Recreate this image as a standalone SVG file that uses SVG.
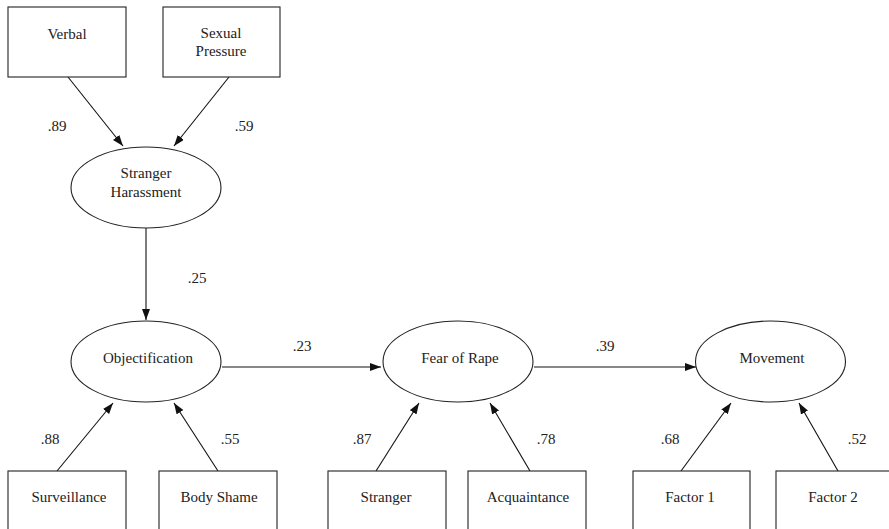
<svg xmlns="http://www.w3.org/2000/svg" width="889" height="529" viewBox="0 0 889 529">
<style>
.box{fill:#fff;stroke:#222;stroke-width:1.1}
.ell{fill:#fff;stroke:#222;stroke-width:1.1}
.t{font-family:"Liberation Serif","Times New Roman",serif;font-size:15px;fill:#222;text-anchor:middle}
.c{stroke:#111;stroke-width:1.1;fill:none;marker-end:url(#ah)}
</style>
<defs>
<marker id="ah" markerUnits="userSpaceOnUse" markerWidth="12" markerHeight="10" refX="11" refY="4" orient="auto">
<path d="M0,0 L11,4 L0,8 Z" fill="#111"/>
</marker>
</defs>
<rect width="889" height="529" fill="#fff"/>
<g id="connectors">
<line class="c" x1="68" y1="77" x2="123" y2="146"/>
<line class="c" x1="229" y1="77" x2="174" y2="146"/>
<line class="c" x1="146" y1="228" x2="146" y2="320"/>
<line class="c" x1="222" y1="367" x2="381" y2="367"/>
<line class="c" x1="534" y1="367" x2="696" y2="367"/>
<line class="c" x1="57" y1="471" x2="113" y2="403"/>
<line class="c" x1="218" y1="471" x2="174" y2="403"/>
<line class="c" x1="376" y1="471" x2="419" y2="403"/>
<line class="c" x1="530" y1="471" x2="490" y2="403"/>
<line class="c" x1="681" y1="471" x2="731" y2="403"/>
<line class="c" x1="838" y1="471" x2="799" y2="403"/>
<text class="t" x="57" y="131">.89</text>
<text class="t" x="244" y="131">.59</text>
<text class="t" x="197" y="283">.25</text>
<text class="t" x="302" y="351">.23</text>
<text class="t" x="605" y="351">.39</text>
<text class="t" x="50" y="444">.88</text>
<text class="t" x="230" y="444">.55</text>
<text class="t" x="362" y="444">.87</text>
<text class="t" x="546" y="444">.78</text>
<text class="t" x="670" y="444">.68</text>
<text class="t" x="857" y="444">.52</text>
</g>
<g id="verbal">
<rect class="box" x="8" y="7" width="118" height="70"/>
<text class="t" x="67" y="39">Verbal</text>
</g>
<g id="sexual-pressure">
<rect class="box" x="163" y="7" width="117" height="70"/>
<text class="t" x="221" y="38">Sexual</text>
<text class="t" x="221" y="56">Pressure</text>
</g>
<g id="stranger-harassment">
<ellipse class="ell" cx="146" cy="187.5" rx="75" ry="40.5"/>
<text class="t" x="146" y="178">Stranger</text>
<text class="t" x="146" y="197">Harassment</text>
</g>
<g id="objectification">
<ellipse class="ell" cx="146" cy="361.5" rx="75" ry="40.5"/>
<text class="t" x="148" y="363">Objectification</text>
</g>
<g id="fear-of-rape">
<ellipse class="ell" cx="458" cy="361.5" rx="75" ry="40.5"/>
<text class="t" x="460" y="363">Fear of Rape</text>
</g>
<g id="movement">
<ellipse class="ell" cx="770.5" cy="361.5" rx="75" ry="40.5"/>
<text class="t" x="772" y="363">Movement</text>
</g>
<g id="surveillance">
<rect class="box" x="8" y="471" width="118" height="70"/>
<text class="t" x="69" y="502">Surveillance</text>
</g>
<g id="body-shame">
<rect class="box" x="159" y="471" width="118" height="70"/>
<text class="t" x="219" y="502">Body Shame</text>
</g>
<g id="stranger">
<rect class="box" x="328" y="471" width="118" height="70"/>
<text class="t" x="386" y="502">Stranger</text>
</g>
<g id="acquaintance">
<rect class="box" x="468" y="471" width="118" height="70"/>
<text class="t" x="528" y="502">Acquaintance</text>
</g>
<g id="factor-1">
<rect class="box" x="633" y="471" width="117" height="70"/>
<text class="t" x="690" y="502">Factor 1</text>
</g>
<g id="factor-2">
<rect class="box" x="776" y="471" width="118" height="70"/>
<text class="t" x="833" y="502">Factor 2</text>
</g>
</svg>
